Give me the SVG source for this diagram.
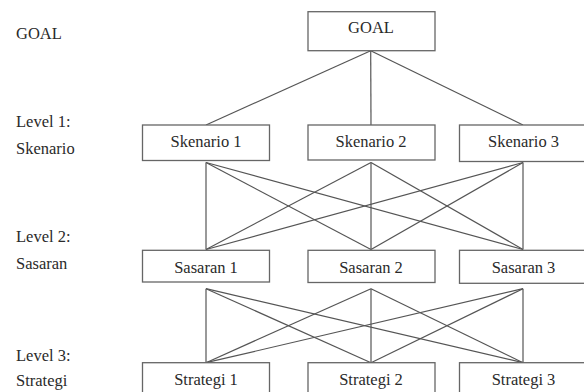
<svg xmlns="http://www.w3.org/2000/svg" width="584" height="392" viewBox="0 0 584 392">
<style>
.box{fill:#fff;stroke:#666;stroke-width:1.3}
text{font-family:'Liberation Serif','Times New Roman','DejaVu Serif',serif;font-size:16.5px;fill:#2a2a2a}
.c{text-anchor:middle}
.ln{stroke:#555;stroke-width:1.2;fill:none}
</style>
<rect width="584" height="392" fill="#fff"/>
<g id="labels" font-family="Liberation Serif, serif">
<text x="16" y="39">GOAL</text>
<text x="16" y="126.5">Level 1:</text>
<text x="16" y="154">Skenario</text>
<text x="16" y="241.5">Level 2:</text>
<text x="16" y="269">Sasaran</text>
<text x="16" y="361">Level 3:</text>
<text x="16" y="386">Strategi</text>
</g>
<g id="connectors" class="ln">
<line x1="370.7" y1="50.7" x2="206" y2="125"/>
<line x1="370.7" y1="50.7" x2="371" y2="125"/>
<line x1="370.7" y1="50.7" x2="523" y2="125"/>
<line x1="206" y1="162.5" x2="206" y2="249.5"/>
<line x1="206" y1="162.5" x2="371" y2="249.5"/>
<line x1="206" y1="162.5" x2="523" y2="249.5"/>
<line x1="371" y1="162.5" x2="206" y2="249.5"/>
<line x1="371" y1="162.5" x2="371" y2="249.5"/>
<line x1="371" y1="162.5" x2="523" y2="249.5"/>
<line x1="523" y1="162.5" x2="206" y2="249.5"/>
<line x1="523" y1="162.5" x2="371" y2="249.5"/>
<line x1="523" y1="162.5" x2="523" y2="249.5"/>
<line x1="206" y1="288.7" x2="206" y2="362.7"/>
<line x1="206" y1="288.7" x2="371" y2="362.7"/>
<line x1="206" y1="288.7" x2="523" y2="362.7"/>
<line x1="371" y1="288.7" x2="206" y2="362.7"/>
<line x1="371" y1="288.7" x2="371" y2="362.7"/>
<line x1="371" y1="288.7" x2="523" y2="362.7"/>
<line x1="523" y1="288.7" x2="206" y2="362.7"/>
<line x1="523" y1="288.7" x2="371" y2="362.7"/>
<line x1="523" y1="288.7" x2="523" y2="362.7"/>
</g>
<g id="goal"><rect class="box" x="308" y="11.7" width="127" height="39"/><text class="c" x="371" y="33.3">GOAL</text></g>
<g id="skenario1"><rect class="box" x="142.5" y="125" width="127" height="35.5"/><text class="c" x="206" y="146.7">Skenario 1</text></g>
<g id="skenario2"><rect class="box" x="308" y="125" width="127" height="35"/><text class="c" x="371" y="146.7">Skenario 2</text></g>
<g id="skenario3"><rect class="box" x="459.5" y="125" width="127" height="36.5"/><text class="c" x="523.5" y="146.7">Skenario 3</text></g>
<g id="sasaran1"><rect class="box" x="142.5" y="250.3" width="127" height="31.7"/><text class="c" x="206" y="272.7">Sasaran 1</text></g>
<g id="sasaran2"><rect class="box" x="308" y="250.3" width="127" height="32.2"/><text class="c" x="371" y="272.7">Sasaran 2</text></g>
<g id="sasaran3"><rect class="box" x="459.5" y="250.3" width="127" height="33"/><text class="c" x="523.5" y="272.7">Sasaran 3</text></g>
<g id="strategi1"><rect class="box" x="142.5" y="362.7" width="127" height="34"/><text class="c" x="206" y="385.3">Strategi 1</text></g>
<g id="strategi2"><rect class="box" x="308" y="362.7" width="127" height="34"/><text class="c" x="371" y="385.3">Strategi 2</text></g>
<g id="strategi3"><rect class="box" x="459.5" y="362.7" width="127" height="34"/><text class="c" x="523.5" y="385.3">Strategi 3</text></g>
</svg>
